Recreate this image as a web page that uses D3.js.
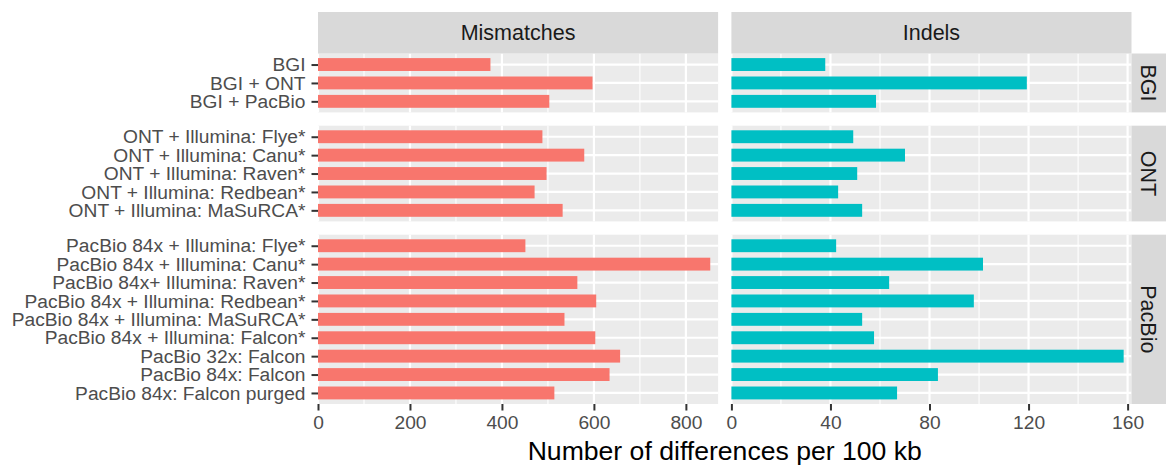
<!DOCTYPE html>
<html>
<head>
<meta charset="utf-8">
<script src="https://cdn.jsdelivr.net/npm/d3@7"></script>
<style>
  body { margin: 0; background: #fff; }
  svg { display: block; font-family: "Liberation Sans", Arial, sans-serif; }
</style>
</head>
<body>
<svg id="chart"></svg>
<script>
// assemblies, top to bottom
const assemblies = [
    "BGI", "BGI + ONT", "BGI + PacBio",
    "ONT + Illumina: Flye*", "ONT + Illumina: Canu*", "ONT + Illumina: Raven*",
    "ONT + Illumina: Redbean*", "ONT + Illumina: MaSuRCA*",
    "PacBio 84x + Illumina: Flye*", "PacBio 84x + Illumina: Canu*", "PacBio 84x+ Illumina: Raven*",
    "PacBio 84x + Illumina: Redbean*", "PacBio 84x + Illumina: MaSuRCA*", "PacBio 84x + Illumina: Falcon*",
    "PacBio 32x: Falcon", "PacBio 84x: Falcon", "PacBio 84x: Falcon purged"
];
const platforms = [
    "BGI", "BGI", "BGI",
    "ONT", "ONT", "ONT", "ONT", "ONT",
    "PacBio", "PacBio", "PacBio", "PacBio", "PacBio", "PacBio", "PacBio", "PacBio", "PacBio"
];
const mismatches = [375, 597, 503, 488, 579, 497, 471, 532, 451, 853, 564, 605, 536, 603, 657, 634, 514];
const indels = [37.9, 119.3, 58.4, 49.2, 70.1, 50.8, 43.1, 52.8, 42.3, 101.6, 63.7, 97.9, 52.8, 57.6, 158.4, 83.4, 66.9];

const facetRows = ["BGI", "ONT", "PacBio"];
const facetCols = ["Mismatches", "Indels"];
const mismatchTicks = [0, 200, 400, 600, 800];
const indelTicks = [0, 40, 80, 120, 160];

const config = {
    width: 1166,
    height: 466,
    panelLeft: 318,
    panelRight: 1131.5,
    panelTop: 53.5,
    panelBottom: 404,
    stripTop: 12,
    spacing: 13.3,
    colors: ["#F8766D", "#00BFC4"]
};

const svg = d3.select("#chart")
    .attr("width", config.width)
    .attr("height", config.height);

const rows = assemblies.map((a, i) => ({
    name: a,
    platform: platforms[i],
    mismatches: mismatches[i],
    indels: indels[i]
}));

// panel columns
const colWidth = (config.panelRight - config.panelLeft - config.spacing) / 2;
const columns = facetCols.map((c, i) => {
    const x0 = config.panelLeft + i * (colWidth + config.spacing);
    const key = i === 0 ? "mismatches" : "indels";
    const ticks = i === 0 ? mismatchTicks : indelTicks;
    const scale = d3.scaleLinear()
        .domain([0, d3.max(rows, d => d[key]) * 1.02])
        .range([x0, x0 + colWidth]);
    return { name: c, key, ticks, scale, x0, x1: x0 + colWidth, color: config.colors[i] };
});

// panel rows, height proportional to number of bars (space = "free_y")
const groups = facetRows.map(p => rows.filter(d => d.platform === p));
const totalUnits = d3.sum(groups, g => g.length - 1 + 1.2);
const step = (config.panelBottom - config.panelTop - config.spacing * (groups.length - 1)) / totalUnits;
let yCursor = config.panelTop;
const panelRows = groups.map((g, i) => {
    const h = (g.length - 1 + 1.2) * step;
    const scale = d3.scalePoint()
        .domain(g.map(d => d.name))
        .range([yCursor, yCursor + h])
        .padding(0.6);
    const r = { name: facetRows[i], data: g, scale, y0: yCursor, y1: yCursor + h };
    yCursor += h + config.spacing;
    return r;
});

function minorTicks(ticks, domainMax) {
    const out = [];
    const d = ticks[1] - ticks[0];
    for (let i = 0; i < ticks.length; i++) {
        const m = ticks[i] + d / 2;
        if (m < domainMax) out.push(m);
    }
    return out;
}

panelRows.forEach(row => {
    columns.forEach((col, ci) => {
        const g = svg.append("g");

        g.append("rect")
            .attr("x", col.x0)
            .attr("y", row.y0)
            .attr("width", col.x1 - col.x0)
            .attr("height", row.y1 - row.y0)
            .attr("fill", "#EBEBEB");

        // minor grid
        g.selectAll(".minor")
            .data(minorTicks(col.ticks, col.scale.domain()[1]))
            .join("line")
            .attr("x1", d => col.scale(d))
            .attr("x2", d => col.scale(d))
            .attr("y1", row.y0)
            .attr("y2", row.y1)
            .attr("stroke", "#fff")
            .attr("stroke-width", 1.1);

        // major grid
        g.selectAll(".majorx")
            .data(col.ticks)
            .join("line")
            .attr("x1", d => col.scale(d))
            .attr("x2", d => col.scale(d))
            .attr("y1", row.y0)
            .attr("y2", row.y1)
            .attr("stroke", "#fff")
            .attr("stroke-width", 2.2);

        g.selectAll(".majory")
            .data(row.data)
            .join("line")
            .attr("x1", col.x0)
            .attr("x2", col.x1)
            .attr("y1", d => row.scale(d.name))
            .attr("y2", d => row.scale(d.name))
            .attr("stroke", "#fff")
            .attr("stroke-width", 2.2);

        // bars
        g.selectAll(".bar")
            .data(row.data)
            .join("rect")
            .attr("x", col.scale(0))
            .attr("y", d => row.scale(d.name) - step * 0.35)
            .attr("width", d => col.scale(d[col.key]) - col.scale(0))
            .attr("height", step * 0.7)
            .attr("fill", col.color);

        // y axis on the left column only
        if (ci === 0) {
            const yAxisG = svg.append("g")
                .attr("transform", `translate(${col.x0},0)`)
                .call(d3.axisLeft(row.scale).tickSize(6.5).tickPadding(6));
            yAxisG.select(".domain").remove();
            yAxisG.selectAll(".tick line").attr("stroke", "#333333").attr("stroke-width", 2);
            yAxisG.selectAll(".tick text")
                .attr("fill", "#4D4D4D")
                .attr("font-size", "19.2px")
                .attr("font-family", "Liberation Sans, Arial, sans-serif");
        }
    });
});

// x axes under the bottom row
const lastRow = panelRows[panelRows.length - 1];
columns.forEach(col => {
    const xAxisG = svg.append("g")
        .attr("transform", `translate(0,${lastRow.y1})`)
        .call(d3.axisBottom(col.scale).tickValues(col.ticks).tickSize(6.5).tickPadding(5));
    xAxisG.select(".domain").remove();
    xAxisG.selectAll(".tick line").attr("stroke", "#333333").attr("stroke-width", 2);
    xAxisG.selectAll(".tick text")
        .attr("fill", "#4D4D4D")
        .attr("font-size", "19.2px")
        .attr("font-family", "Liberation Sans, Arial, sans-serif");
});

// top strips
columns.forEach(col => {
    svg.append("rect")
        .attr("x", col.x0)
        .attr("y", config.stripTop)
        .attr("width", col.x1 - col.x0)
        .attr("height", config.panelTop - config.stripTop)
        .attr("fill", "#D9D9D9");
    svg.append("text")
        .attr("x", (col.x0 + col.x1) / 2)
        .attr("y", (config.stripTop + config.panelTop) / 2)
        .attr("dy", "0.36em")
        .attr("text-anchor", "middle")
        .attr("font-size", "21.5px")
        .attr("fill", "#1A1A1A")
        .text(col.name);
});

// right strips
panelRows.forEach(row => {
    svg.append("rect")
        .attr("x", config.panelRight)
        .attr("y", row.y0)
        .attr("width", config.width - config.panelRight)
        .attr("height", row.y1 - row.y0)
        .attr("fill", "#D9D9D9");
    const cx = (config.panelRight + config.width) / 2;
    const cy = (row.y0 + row.y1) / 2;
    svg.append("text")
        .attr("transform", `translate(${cx},${cy}) rotate(90)`)
        .attr("dy", "0.36em")
        .attr("text-anchor", "middle")
        .attr("font-size", "21.5px")
        .attr("fill", "#1A1A1A")
        .text(row.name);
});

// axis title
svg.append("text")
    .attr("x", (config.panelLeft + config.panelRight) / 2)
    .attr("y", 460)
    .attr("text-anchor", "middle")
    .attr("font-size", "26.6px")
    .attr("fill", "#000")
    .text("Number of differences per 100 kb");
</script>
</body>
</html>
